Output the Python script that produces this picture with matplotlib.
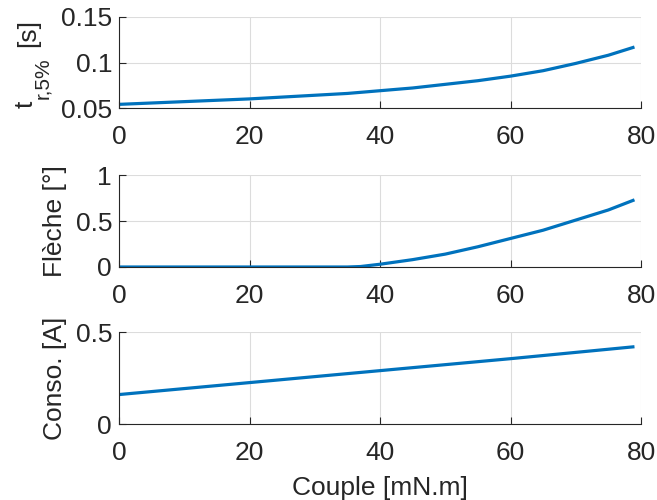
import matplotlib
matplotlib.use("Agg")
import matplotlib.pyplot as plt
import numpy as np

plt.rcParams['font.family'] = ['Liberation Sans', 'DejaVu Sans']

couple = [0, 5, 10, 15, 20, 25, 30, 35, 40, 45, 50, 55, 60, 65, 70, 75, 79]
t_r5 = [0.054, 0.0555, 0.057, 0.0585, 0.060, 0.062, 0.064, 0.066, 0.069,
        0.072, 0.076, 0.080, 0.085, 0.091, 0.099, 0.108, 0.117]

couple_f = [0, 10, 20, 30, 35, 37, 40, 45, 50, 55, 60, 65, 70, 75, 79]
fleche = [0, 0, 0, 0, 0, 0.005, 0.03, 0.08, 0.14, 0.22, 0.31, 0.40, 0.51, 0.62, 0.73]

couple_c = [0, 20, 40, 60, 79]
conso = [0.16, 0.225, 0.29, 0.355, 0.42]

xticks = [0, 20, 40, 60, 80]

color = '#0072BD'
tc = '#262626'
fig = plt.figure(figsize=(6.57, 5.0), dpi=100)

W, H = 657, 500
left, right = 119, 641
boxes = [(17, 108), (175, 267), (332, 424)]
axes = []
for (top, bot) in boxes:
    ax = fig.add_axes([left / W, 1 - bot / H, (right - left) / W, (bot - top) / H])
    axes.append(ax)

specs = [
    (couple, t_r5, (0.05, 0.15), [0.05, 0.1, 0.15], ['0.05', '0.1', '0.15'], None),
    (couple_f, fleche, (0, 1), [0, 0.5, 1], ['0', '0.5', '1'], 'Flèche [°]'),
    (couple_c, conso, (0, 0.5), [0, 0.5], ['0', '0.5'], 'Conso. [A]'),
]

for ax, (x, y, ylim, yt, ytl, lab) in zip(axes, specs):
    ax.plot(x, y, color=color, lw=2.3, solid_capstyle='butt')
    ax.set_xlim(0, 80)
    ax.set_ylim(*ylim)
    ax.set_xticks(xticks)
    ax.set_xticklabels([str(v) for v in xticks])
    ax.set_yticks(yt)
    ax.set_yticklabels(ytl)
    ax.grid(True, color='#dcdcdc', lw=0.8)
    ax.set_axisbelow(True)
    for s in ['top', 'right']:
        ax.spines[s].set_visible(False)
    for s in ['left', 'bottom']:
        ax.spines[s].set_color(tc)
        ax.spines[s].set_linewidth(0.8)
    ax.tick_params(direction='in', length=5, width=0.8, colors=tc,
                   labelsize=19, labelcolor=tc)
    ax.tick_params(axis='x', pad=12)
    ax.tick_params(axis='y', pad=5)
    if lab:
        ax.set_ylabel(lab, fontsize=19, color=tc, labelpad=6)

# Top y label: t with large subscript r,5% and [s]
def px(xp, yp):
    return xp / W, 1 - yp / H

kw = dict(rotation=90, rotation_mode='anchor', ha='left', va='baseline', color=tc)
fig.text(*px(33, 108), 't', fontsize=19, **kw)
fig.text(*px(48, 99), 'r,5%', fontsize=15, **kw)
fig.text(*px(35, 47), '[s]', fontsize=19, **kw)

axes[2].set_xlabel('Couple [mN.m]', fontsize=19, color=tc, labelpad=8)

fig.savefig('out.png', dpi=100)
